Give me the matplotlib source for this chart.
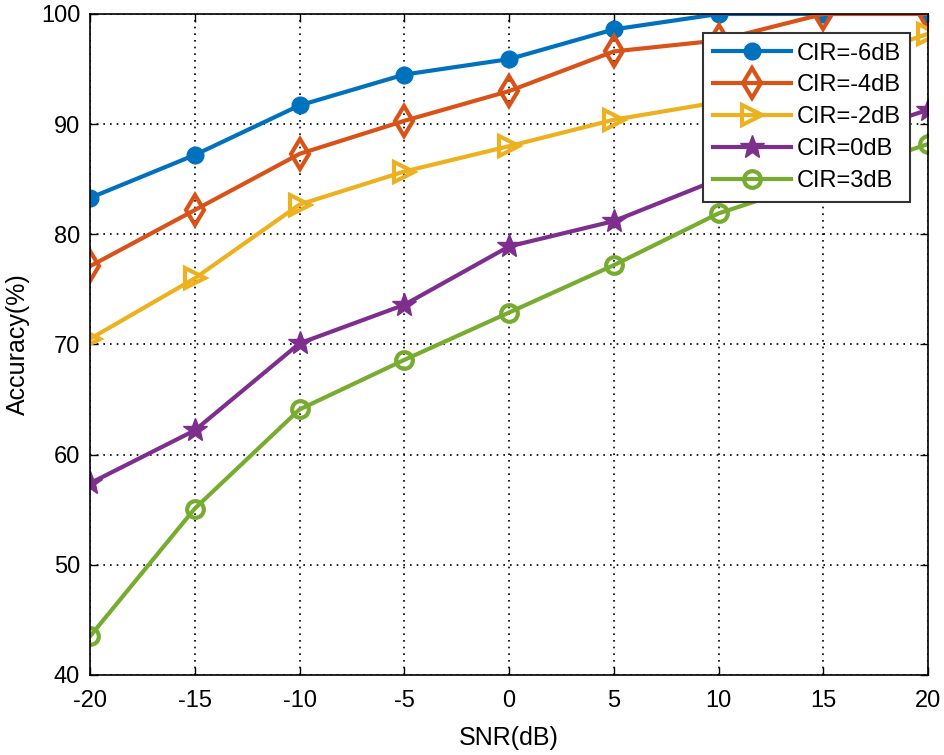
import matplotlib
matplotlib.use("Agg")
import matplotlib.pyplot as plt

snr = [-20, -15, -10, -5, 0, 5, 10, 15, 20]
labels = ["CIR=-6dB", "CIR=-4dB", "CIR=-2dB", "CIR=0dB", "CIR=3dB"]
cir_m6 = [83.3, 87.2, 91.7, 94.5, 95.9, 98.6, 100.0, 100.0, 100.0]
cir_m4 = [77.1, 82.2, 87.3, 90.3, 93.0, 96.6, 97.6, 100.0, 100.0]
cir_m2 = [70.5, 76.0, 82.7, 85.7, 88.0, 90.4, 92.0, 95.0, 98.2]
cir_0 = [57.4, 62.2, 70.1, 73.6, 78.9, 81.2, 85.0, 88.2, 91.3]
cir_3 = [43.5, 55.1, 64.1, 68.6, 72.9, 77.2, 81.9, 85.0, 88.2]
xticks = [-20, -15, -10, -5, 0, 5, 10, 15, 20]
yticks = [40, 50, 60, 70, 80, 90, 100]

series = [cir_m6, cir_m4, cir_m2, cir_0, cir_3]
colors = ["#0072BD", "#D95319", "#EDB120", "#7E2F8E", "#77AC30"]
markers = ["o", "d", ">", "*", "o"]
msizes = [12, 15, 14, 18, 12]
fills = ["full", "none", "none", "full", "none"]

plt.rcParams["font.family"] = ["Liberation Sans", "DejaVu Sans"]
plt.rcParams["axes.unicode_minus"] = False

fig = plt.figure(figsize=(9.45, 7.55), dpi=100)
ax = fig.add_axes([0.0952, 0.106, 0.887, 0.8755])

for ys, c, m, ms, f, lab in zip(series, colors, markers, msizes, fills, labels):
    kw = dict(color=c, lw=3, marker=m, markersize=ms, label=lab)
    if f == "none":
        kw.update(markerfacecolor="none", markeredgewidth=3)
    ax.plot(snr, ys, **kw)

ax.set_xlim(-20, 20)
ax.set_ylim(40, 100)
ax.set_xticks(xticks)
ax.set_yticks(yticks)
ax.grid(True, color="black", linestyle=(0, (1, 3)), linewidth=1.2)
ax.tick_params(direction="in", labelsize=17, length=6, width=1,
               top=True, right=True)
ax.tick_params(axis="x", pad=11)
ax.tick_params(axis="y", pad=7)
for s in ax.spines.values():
    s.set_linewidth(1.2)
ax.set_xlabel("SNR(dB)", fontsize=18, labelpad=10)
ax.set_ylabel("Accuracy(%)", fontsize=18, labelpad=8)

leg = ax.legend(loc="upper right", bbox_to_anchor=(0.9785, 0.971), fontsize=17,
                fancybox=False, edgecolor="#333333", framealpha=1,
                handlelength=3.3, borderpad=0.4, labelspacing=0.42,
                handletextpad=0.25, borderaxespad=0)
leg.get_frame().set_linewidth(1.5)

fig.savefig("out.png", dpi=100)
